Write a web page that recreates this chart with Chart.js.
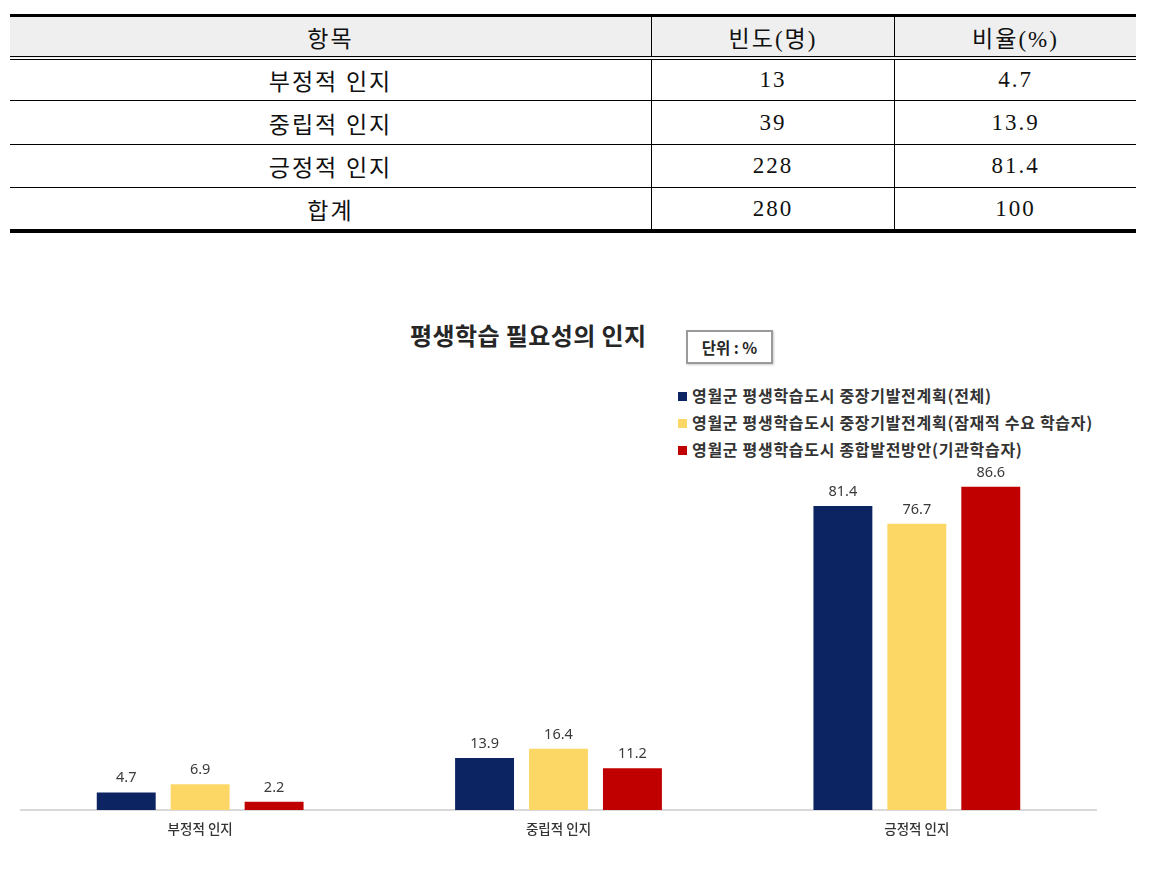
<!DOCTYPE html>
<html>
<head>
<meta charset="utf-8">
<script src="https://cdn.jsdelivr.net/npm/chart.js@4"></script>
<style>
  html, body { margin:0; padding:0; background:#fff; width:1154px; height:886px; overflow:hidden; }
  body { position:relative; font-family:"Noto Sans CJK KR", sans-serif; }
  #tbl { position:absolute; left:10px; top:14px; width:1126px; border-collapse:collapse; table-layout:fixed;
         font-family:"Liberation Serif","Noto Sans CJK KR",serif; font-size:23px; color:#111; }
  #tbl td, #tbl th { text-align:center; vertical-align:middle; padding:0; font-weight:normal; letter-spacing:2px; }
  #tbl thead tr { border-top:3px solid #000; border-bottom:4px double #000; background:#efefef; }
  #tbl thead th { height:39px; }
  #tbl tbody td { border-bottom:1px solid #000; }
  #tbl tbody tr:last-child td { border-bottom:4px solid #000; }
  #tbl .c1 { border-left:1px solid #000; }
  #title { position:absolute; left:410px; top:317px; font-size:24px; font-weight:bold; color:#262626; letter-spacing:0.4px; white-space:nowrap; }
  #unit { position:absolute; left:686px; top:330px; width:83px; height:30px; border:2px solid #9a9a9a; box-shadow:1px 1px 2px #ccc;
          font-size:15.5px; font-weight:bold; color:#262626; line-height:30px; text-align:center; }
  #legend { position:absolute; left:678px; top:383px; font-size:16px; font-weight:bold; color:#333; letter-spacing:0.7px; }
  #legend div { height:27px; line-height:25px; white-space:nowrap; }
  #legend span.sw { display:inline-block; width:9px; height:9px; margin-right:5px; vertical-align:middle; position:relative; top:-1px; }
  #chartWrap { position:absolute; left:0; top:440px; width:1154px; height:420px; }
</style>
</head>
<body>
<table id="tbl"><thead><tr id="hdr"></tr></thead><tbody id="tbody"></tbody></table>
<div id="title">평생학습 필요성의 인지</div>
<div id="unit">단위 : %</div>
<div id="legend"></div>
<div id="chartWrap"><canvas id="c" width="1154" height="420"></canvas></div>
<script>
// ---- data ----
const tableHeaders = ['항목', '빈도(명)', '비율(%)'];
const tableItems = ['부정적 인지', '중립적 인지', '긍정적 인지', '합계'];
const tableCounts = ['13', '39', '228', '280'];
const tablePercents = ['4.7', '13.9', '81.4', '100'];

const categories = ['부정적 인지', '중립적 인지', '긍정적 인지'];
const seriesNames = [
  '영월군 평생학습도시 중장기발전계획(전체)',
  '영월군 평생학습도시 중장기발전계획(잠재적 수요 학습자)',
  '영월군 평생학습도시 종합발전방안(기관학습자)'
];
const seriesAll = [4.7, 13.9, 81.4];
const seriesPotential = [6.9, 16.4, 76.7];
const seriesInstitution = [2.2, 11.2, 86.6];
const seriesColors = ['#0c2461', '#fdd766', '#c00000'];

// ---- table ----
const hdr = document.getElementById('hdr');
tableHeaders.forEach((h, i) => {
  const th = document.createElement('th');
  th.textContent = h;
  if (i > 0) th.className = 'c1';
  hdr.appendChild(th);
});
const rowHeights = [40, 43, 42, 41];
const tb = document.getElementById('tbody');
tableItems.forEach((it, r) => {
  const tr = document.createElement('tr');
  [it, tableCounts[r], tablePercents[r]].forEach((v, i) => {
    const td = document.createElement('td');
    td.textContent = v;
    td.style.height = rowHeights[r] + 'px';
    if (i > 0) td.className = 'c1';
    tr.appendChild(td);
  });
  tb.appendChild(tr);
});
document.querySelector('#tbl thead th').style.width = '641px';
document.querySelectorAll('#tbl thead th')[1].style.width = '242px';

// ---- legend ----
const lg = document.getElementById('legend');
seriesNames.forEach((n, i) => {
  const d = document.createElement('div');
  const s = document.createElement('span');
  s.className = 'sw';
  s.style.background = seriesColors[i];
  d.appendChild(s);
  d.appendChild(document.createTextNode(n));
  lg.appendChild(d);
});

// ---- chart ----
const valueLabels = {
  id: 'valueLabels',
  afterDatasetsDraw(chart) {
    const ctx = chart.ctx;
    ctx.save();
    ctx.font = '14.5px "Noto Sans", sans-serif';
    ctx.fillStyle = '#3a3a3a';
    ctx.textAlign = 'center';
    ctx.textBaseline = 'bottom';
    chart.data.datasets.forEach((ds, di) => {
      chart.getDatasetMeta(di).data.forEach((bar, i) => {
        ctx.fillText(ds.data[i].toFixed(1), bar.x, bar.y - 7);
      });
    });
    ctx.restore();
  }
};

new Chart(document.getElementById('c'), {
  type: 'bar',
  data: {
    labels: categories,
    datasets: [
      { label: seriesNames[0], data: seriesAll, backgroundColor: seriesColors[0] },
      { label: seriesNames[1], data: seriesPotential, backgroundColor: seriesColors[1] },
      { label: seriesNames[2], data: seriesInstitution, backgroundColor: seriesColors[2] }
    ]
  },
  options: {
    responsive: false,
    devicePixelRatio: 1,
    animation: false,
    layout: { padding: { left: 21, right: 58, top: 34, bottom: 0 } },
    datasets: { bar: { categoryPercentage: 0.619, barPercentage: 0.797 } },
    plugins: { legend: { display: false }, tooltip: { enabled: false }, title: { display: false } },
    scales: {
      y: { display: false, min: 0, max: 90 },
      x: {
        grid: { display: false, drawTicks: false },
        border: { display: true, color: '#d9d9d9', width: 2 },
        ticks: { padding: 11, color: '#333', font: { family: '"Noto Sans CJK KR", sans-serif', size: 13.5, weight: '500' } },
        afterFit(scale) { scale.height = 50; }
      }
    }
  },
  plugins: [valueLabels]
});
</script>
</body>
</html>
